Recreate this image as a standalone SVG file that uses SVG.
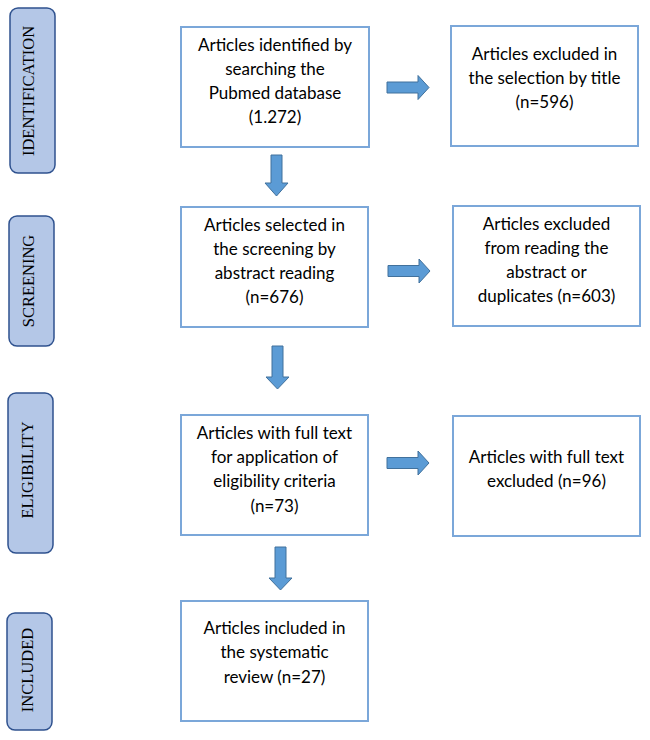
<svg xmlns="http://www.w3.org/2000/svg" width="650" height="740" viewBox="0 0 650 740">
<style>
.stage{fill:#b4c7e7;stroke:#2f528f;stroke-width:1.5}
.stxt{font-family:"Liberation Serif",serif;font-size:16.5px;fill:#000;text-anchor:middle}
.box{fill:#fff;stroke:#7ba7d9;stroke-width:2}
.btxt{font-family:Lato,"Liberation Sans",sans-serif;font-size:17px;fill:#000;text-anchor:middle}
.arr{fill:#5b9bd5;stroke:#41719c;stroke-width:1}
</style>
<rect width="650" height="740" fill="#fff"/>
<g id="stage-identification"><rect class="stage" x="10" y="8" width="45" height="165" rx="8"/><text class="stxt" x="34" y="91" transform="rotate(-90 34 91)">IDENTIFICATION</text></g>
<g id="stage-screening"><rect class="stage" x="9" y="216" width="45" height="130" rx="8"/><text class="stxt" x="34" y="281" transform="rotate(-90 34 281)">SCREENING</text></g>
<g id="stage-eligibility"><rect class="stage" x="8" y="393" width="45" height="160" rx="8"/><text class="stxt" x="33" y="470" transform="rotate(-90 33 470)">ELIGIBILITY</text></g>
<g id="stage-included"><rect class="stage" x="7" y="613" width="45" height="117" rx="8"/><text class="stxt" x="33" y="670" transform="rotate(-90 33 670)">INCLUDED</text></g>
<g id="box-identified"><rect class="box" x="181" y="27" width="188" height="120"/><text class="btxt"><tspan x="275" y="51">Articles identified by</tspan><tspan x="275" y="75">searching the</tspan><tspan x="275" y="99">Pubmed database</tspan><tspan x="275" y="123">(1.272)</tspan></text></g>
<g id="box-excluded-title"><rect class="box" x="451" y="26" width="187" height="120"/><text class="btxt"><tspan x="544.5" y="60">Articles excluded in</tspan><tspan x="544.5" y="84">the selection by title</tspan><tspan x="544.5" y="108">(n=596)</tspan></text></g>
<g id="box-screening"><rect class="box" x="181" y="207" width="187" height="120"/><text class="btxt"><tspan x="274.5" y="231">Articles selected in</tspan><tspan x="274.5" y="255">the screening by</tspan><tspan x="274.5" y="279">abstract reading</tspan><tspan x="274.5" y="303">(n=676)</tspan></text></g>
<g id="box-excluded-abstract"><rect class="box" x="453" y="206" width="187" height="120"/><text class="btxt"><tspan x="546.5" y="230">Articles excluded</tspan><tspan x="546.5" y="254">from reading the</tspan><tspan x="546.5" y="278">abstract or</tspan><tspan x="546.5" y="302">duplicates (n=603)</tspan></text></g>
<g id="box-fulltext"><rect class="box" x="181" y="415" width="187" height="120"/><text class="btxt"><tspan x="274.5" y="439">Articles with full text</tspan><tspan x="274.5" y="463">for application of</tspan><tspan x="274.5" y="487">eligibility criteria</tspan><tspan x="274.5" y="512">(n=73)</tspan></text></g>
<g id="box-fulltext-excluded"><rect class="box" x="453" y="416" width="187" height="120"/><text class="btxt"><tspan x="546.5" y="463">Articles with full text</tspan><tspan x="546.5" y="487">excluded (n=96)</tspan></text></g>
<g id="box-included"><rect class="box" x="181" y="601" width="187" height="120"/><text class="btxt"><tspan x="274.5" y="634">Articles included in</tspan><tspan x="274.5" y="658">the systematic</tspan><tspan x="274.5" y="683">review (n=27)</tspan></text></g>
<g id="connectors">
<polygon class="arr" points="387,82 418,82 418,75.5 429,87.5 418,99.5 418,93 387,93"/>
<polygon class="arr" points="388,265.5 419,265.5 419,259 430,271 419,283 419,276.5 388,276.5"/>
<polygon class="arr" points="387,457.5 418,457.5 418,451 429,463 418,475 418,468.5 387,468.5"/>
<polygon class="arr" points="271,155 282,155 282,183 288,183 276.5,196 265,183 271,183"/>
<polygon class="arr" points="272,346 283,346 283,377 289,377 277.5,389 266,377 272,377"/>
<polygon class="arr" points="275,547 286,547 286,578 292,578 280.5,590 269,578 275,578"/>
</g>
</svg>
